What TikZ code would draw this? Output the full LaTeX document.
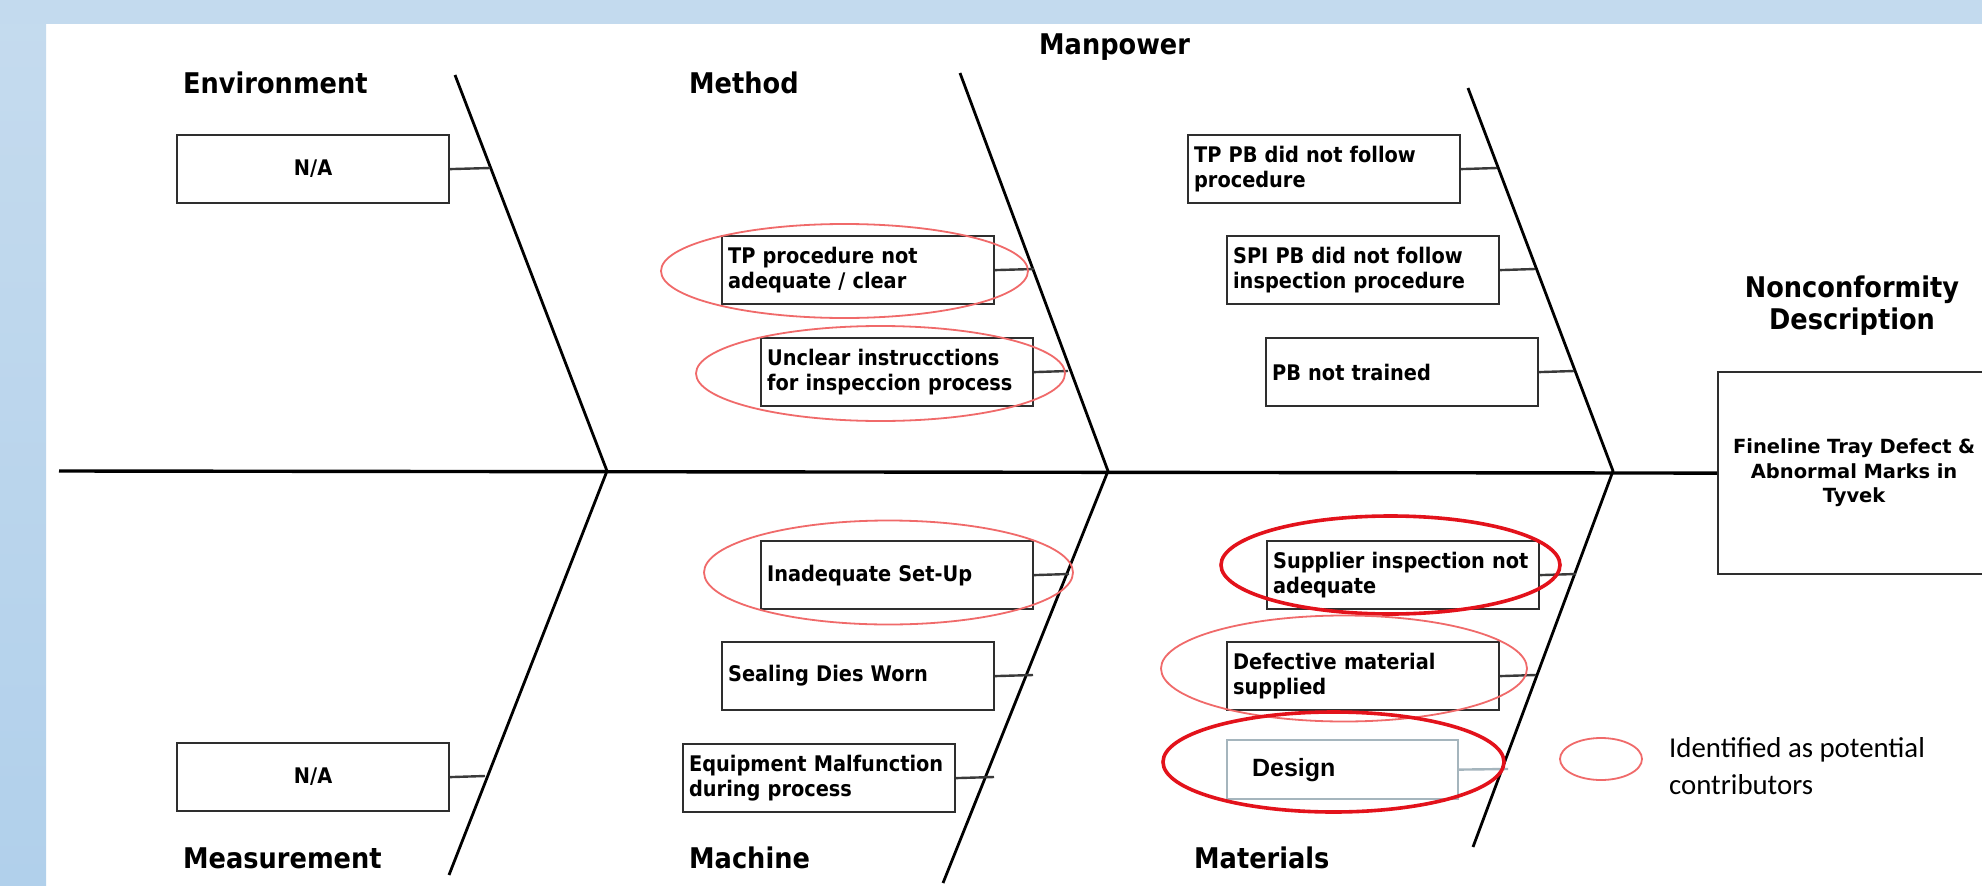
\documentclass[tikz,border=0pt]{standalone}
\usepackage{fontspec}
\newfontfamily\condf{DejaVu Sans Condensed}
\newfontfamily\verdf{DejaVu Sans}
\newfontfamily\legf{Carlito}
\newfontfamily\arialf{Liberation Sans}
\definecolor{topblue}{HTML}{C3DAEE}
\definecolor{lefttop}{HTML}{C5DBEE}
\definecolor{leftbot}{HTML}{B1D0EB}
\definecolor{boxgray}{HTML}{2E2E2E}
\definecolor{linegray}{HTML}{3A3A3A}
\definecolor{thinred}{HTML}{F06A6A}
\definecolor{thickred}{HTML}{E3121B}
\definecolor{designgray}{HTML}{A5B5BD}
\begin{document}
\begin{tikzpicture}[x=1pt,y=-1pt,
  box/.style={draw=boxgray, line width=2.2pt, fill=white, minimum height=68pt,
    text width=260pt, inner xsep=6pt, inner ysep=0pt, align=left, anchor=north west,
    font=\condf\bfseries\fontsize{21.5}{25}\selectfont},
  heading/.style={font=\condf\bfseries\fontsize{28.5}{32}\selectfont, inner sep=0pt, anchor=base west},
  bone/.style={line width=2.8pt, black, line join=round},
  spine/.style={line width=3.4pt, black},
  conn/.style={line width=2.4pt, draw=linegray},
  thinell/.style={draw=thinred, line width=1.8pt},
  thickell/.style={draw=thickred, line width=3.6pt}]
\useasboundingbox (0,0) rectangle (1982,886);
% background
\fill[white] (0,0) rectangle (1982,886);
\fill[topblue] (0,0) rectangle (1982,24);
\shade[top color=lefttop, bottom color=leftbot] (0,0) rectangle (46,886);
\fill[topblue] (0,0) rectangle (46,24);
% bones
\coordinate (b1t) at (455,75); \coordinate (b1j) at (607,471); \coordinate (b1b) at (449,875);
\coordinate (b2t) at (960,73); \coordinate (b2j) at (1108,471); \coordinate (b2b) at (943,883);
\coordinate (b3t) at (1468,88); \coordinate (b3j) at (1613,471); \coordinate (b3b) at (1473,847);
\coordinate (spst) at (59,471);
% head box
\node[draw=boxgray, line width=2.2pt, fill=white, minimum width=272pt, minimum height=202pt,
  text width=260pt, inner xsep=6pt, align=center, anchor=north west,
  font=\verdf\bfseries\fontsize{19.5}{24.5}\selectfont] (head) at (1717,371)
  {Fineline Tray Defect \&\\Abnormal Marks in\\Tyvek};
\draw[spine] (spst) -- (head.west);
\draw[bone] (b1t) -- (b1j) -- (b1b);
\draw[bone] (b2t) -- (b2j) -- (b2b);
\draw[bone] (b3t) -- (b3j) -- (b3b);
% headings
\node[heading] (henv) at (183,93) {Environment};
\node[heading] (hmeth) at (689,93) {Method};
\node[heading] (hman) at (1039,54) {Manpower};
\node[heading] (hmeas) at (183,868) {Measurement};
\node[heading] (hmach) at (689,868) {Machine};
\node[heading] (hmat) at (1194,868) {Materials};
\node[font=\condf\bfseries\fontsize{28.5}{32}\selectfont, align=center, inner sep=0pt] (hnc) at (1852,306) {Nonconformity\\Description};
% boxes
\node[box, align=center] (envna) at (176,134) {N/A};
\node[box, align=center] (measna) at (176,742) {N/A};
\node[box] (meth1) at (721,235) {TP procedure not\\adequate / clear};
\node[box] (meth2) at (760,337) {Unclear instrucctions\\for inspeccion process};
\node[box] (man1) at (1187,134) {TP PB did not follow\\procedure};
\node[box] (man2) at (1226,235) {SPI PB did not follow\\inspection procedure};
\node[box] (man3) at (1265,337) {PB not trained};
\node[box] (mach1) at (760,540) {Inadequate Set-Up};
\node[box] (mach2) at (721,641) {Sealing Dies Worn};
\node[box] (mach3) at (682,743) {Equipment Malfunction\\during process};
\node[box] (mat1) at (1266,540) {Supplier inspection not\\adequate};
\node[box] (mat2) at (1226,641) {Defective material\\supplied};
\node[box, draw=designgray, text width=181pt, inner xsep=25pt, minimum height=59pt,
  font=\arialf\bfseries\fontsize{25}{28}\selectfont] (mat3) at (1226,739) {Design};
% connector end points on bones
\coordinate (cenv) at (490,168);
\coordinate (cmeas) at (485,776);
\coordinate (cmeth1) at (1034,269);
\coordinate (cmeth2) at (1068,371);
\coordinate (cman1) at (1497,168);
\coordinate (cman2) at (1535,269);
\coordinate (cman3) at (1574,371);
\coordinate (cmach1) at (1069,574);
\coordinate (cmach2) at (1033,675);
\coordinate (cmach3) at (994,777);
\coordinate (cmat1) at (1576,574);
\coordinate (cmat2) at (1536,675);
\coordinate (cmat3) at (1508,769);
\draw[conn] (envna.east) -- (cenv);
\draw[conn] (measna.east) -- (cmeas);
\draw[conn] (meth1.east) -- (cmeth1);
\draw[conn] (meth2.east) -- (cmeth2);
\draw[conn] (man1.east) -- (cman1);
\draw[conn] (man2.east) -- (cman2);
\draw[conn] (man3.east) -- (cman3);
\draw[conn] (mach1.east) -- (cmach1);
\draw[conn] (mach2.east) -- (cmach2);
\draw[conn] (mach3.east) -- (cmach3);
\draw[conn] (mat1.east) -- (cmat1);
\draw[conn] (mat2.east) -- (cmat2);
\draw[conn, draw=designgray] (mat3.east) -- (cmat3);
% ellipses
\draw[thinell] (844.5,271) ellipse (183.5 and 47);
\draw[thinell] (880.5,373.5) ellipse (184.5 and 47.5);
\draw[thinell] (888.5,572.5) ellipse (184.5 and 52);
\draw[thickell] (1390.5,565) ellipse (169.5 and 49);
\draw[thinell] (1344,668.5) ellipse (183 and 53);
\draw[thickell] (1333.5,762) ellipse (170.5 and 50);
% legend
\draw[thinell] (1601,759) ellipse (41 and 21);
\node[font=\legf\fontsize{28.8}{37}\selectfont, align=left, inner sep=0pt, anchor=west] (legend) at (1669,766)
  {Identified as potential\\contributors};
\end{tikzpicture}
\end{document}
